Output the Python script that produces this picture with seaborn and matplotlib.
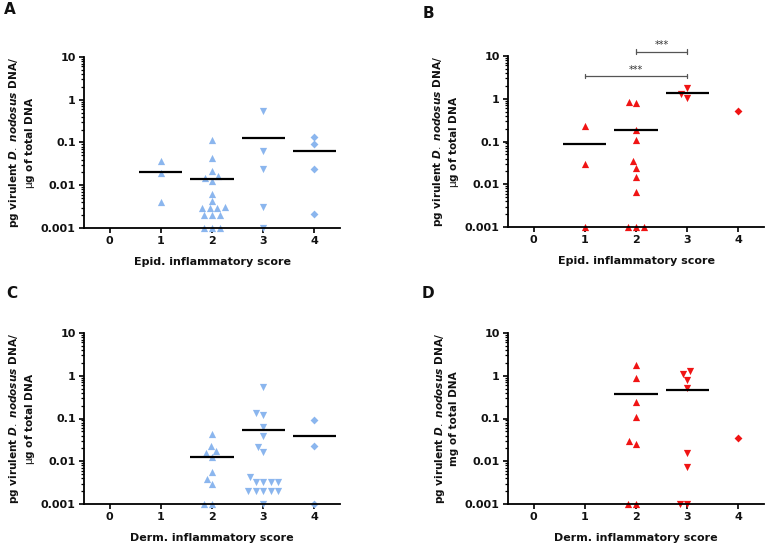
import numpy as np
import pandas as pd
import matplotlib
matplotlib.use("Agg")
import matplotlib.pyplot as plt
import seaborn as sns
from matplotlib.ticker import FixedLocator, FixedFormatter, LogLocator, NullFormatter

sns.set_theme(style="ticks")
plt.rcParams['font.family'] = ['DejaVu Sans']
plt.rcParams['mathtext.fontset'] = 'custom'
plt.rcParams['mathtext.it'] = 'DejaVu Sans:italic:bold'
plt.rcParams['mathtext.rm'] = 'DejaVu Sans'

scores = [0, 1, 2, 3, 4]
ytick_vals = [0.001, 0.01, 0.1, 1, 10]
ytick_labels = ["0.001", "0.01", "0.1", "1", "10"]

# Panel A - epidermal score (blue)
a_s1 = [0.037, 0.019, 0.0041]
a_s2 = [0.117, 0.044, 0.021, 0.0164, 0.015, 0.0126, 0.0062, 0.0042, 0.0031, 0.003,
        0.003, 0.0029, 0.002, 0.002, 0.002, 0.001, 0.001, 0.001]
a_s3 = [0.55, 0.062, 0.0236, 0.0031, 0.001]
a_s4 = [0.138, 0.093, 0.0236, 0.0021]

# Panel B - epidermal score (red)
b_s1 = [0.23, 0.029, 0.001]
b_s2 = [0.85, 0.78, 0.184, 0.107, 0.0346, 0.0245, 0.0148, 0.0067, 0.001, 0.001, 0.001]
b_s3 = [1.74, 1.05, 1.28]
b_s4 = [0.53]

# Panel C - dermal score (blue)
c_s2 = [0.043, 0.023, 0.017, 0.0152, 0.0123, 0.0057, 0.0038, 0.0029, 0.001, 0.001]
c_s3 = [0.55, 0.138, 0.122, 0.064, 0.039, 0.0218, 0.0167, 0.0042,
        0.0032, 0.0032, 0.0032, 0.0032, 0.00205, 0.00205, 0.00205, 0.00205, 0.00205, 0.001]
c_s4 = [0.091, 0.023, 0.001]

# Panel D - dermal score (red)
d_s2 = [1.79, 0.867, 0.244, 0.110, 0.0305, 0.0255, 0.001, 0.001]
d_s3 = [1.3, 1.1, 0.8, 0.52, 0.0156, 0.0073, 0.001, 0.001]
d_s4 = [0.035]

marker_for = {1: '^', 2: '^', 3: 'v', 4: 'D'}
size_for = {'^': 5.2, 'v': 5.2, 'D': 4.0}

BLUE = '#8BB6EE'
RED = '#F01414'

panels = [
    ("A", {1: a_s1, 2: a_s2, 3: a_s3, 4: a_s4}, BLUE, "Epid. inflammatory score", r"$\mathrm{\mu}$g of total DNA"),
    ("B", {1: b_s1, 2: b_s2, 3: b_s3, 4: b_s4}, RED, "Epid. inflammatory score", r"$\mathrm{\mu}$g of total DNA"),
    ("C", {2: c_s2, 3: c_s3, 4: c_s4}, BLUE, "Derm. inflammatory score", r"$\mathrm{\mu}$g of total DNA"),
    ("D", {2: d_s2, 3: d_s3, 4: d_s4}, RED, "Derm. inflammatory score", "mg of total DNA"),
]

W, H = 766, 553
fig = plt.figure(figsize=(W / 100, H / 100), dpi=100)

ax_px = {"A": (84, 57), "B": (508, 56), "C": (84, 333), "D": (508, 333)}
letter_px = {"A": (10, 10), "B": (428, 13), "C": (12, 293), "D": (428, 293)}
aw, ah = 256, 171

for letter, groups, color, xlabel, line2 in panels:
    lx, ty = ax_px[letter]
    ax = fig.add_axes([lx / W, 1 - (ty + ah) / H, aw / W, ah / H])
    ax.set_yscale('log')
    rows = []
    for s, vals in groups.items():
        for v in vals:
            rows.append({"score": s, "value": v, "marker": marker_for[s]})
    df = pd.DataFrame(rows)
    for mk in ['^', 'v', 'D']:
        sub = df[df["marker"] == mk]
        if len(sub) == 0:
            continue
        sns.swarmplot(data=sub, x="score", y="value", order=scores, marker=mk,
                      color=color, size=size_for[mk], linewidth=0, ax=ax, zorder=2)
    for coll in ax.collections:
        coll.set_clip_on(False)
    # mean lines
    for s, vals in groups.items():
        if len(vals) >= 2:
            idx = scores.index(s)
            ax.hlines(np.mean(vals), idx - 0.42, idx + 0.42, color='black', lw=1.6, zorder=3)

    ax.set_ylim(0.001, 10)
    ax.set_xlim(-0.5, 4.5)
    ax.yaxis.set_major_locator(FixedLocator(ytick_vals))
    ax.yaxis.set_major_formatter(FixedFormatter(ytick_labels))
    ax.yaxis.set_minor_locator(LogLocator(base=10, subs=np.arange(2, 10)))
    ax.yaxis.set_minor_formatter(NullFormatter())
    ax.set_xticks(range(len(scores)))
    ax.set_xticklabels([str(s) for s in scores])
    for sp in ['top', 'right']:
        ax.spines[sp].set_visible(False)
    for sp in ['left', 'bottom']:
        ax.spines[sp].set_linewidth(1.3)
        ax.spines[sp].set_color('black')
    ax.tick_params(axis='both', which='major', length=3.5, width=1.2, color='black',
                   labelsize=8, pad=2.5)
    ax.tick_params(axis='y', which='minor', length=2.4, width=0.9, color='black')
    for t in ax.get_xticklabels() + ax.get_yticklabels():
        t.set_fontweight('bold')
        t.set_color('#111111')
    ax.set_xlabel(xlabel, fontsize=8, fontweight='bold', color='#111111')
    ax.xaxis.set_label_coords(0.5, -0.17)
    ax.set_ylabel("")
    ax.text(-0.242, 0.5, "pg virulent $\\mathit{D.\\ nodosus}$ DNA/\n" + line2,
            rotation=90, ha='center', va='center', multialignment='center',
            transform=ax.transAxes, fontsize=7.6, fontweight='bold', color='#111111',
            linespacing=1.25)
    fx, fy = letter_px[letter]
    fig.text(fx / W, 1 - fy / H, letter, fontsize=11, fontweight='bold',
             ha='center', va='center', color='#111111')

    if letter == "B":
        gray = '#555555'
        for (x0, x1, y) in [(1, 3, 3.4), (2, 3, 12.5)]:
            ax.plot([x0, x1], [y, y], color=gray, lw=0.9, clip_on=False)
            for xe in (x0, x1):
                ax.plot([xe, xe], [y / 1.14, y * 1.14], color=gray, lw=0.9, clip_on=False)
            ax.text((x0 + x1) / 2, y * 1.08, "***", ha='center', va='bottom',
                    fontsize=7, color='#333333', clip_on=False)

fig.savefig("out.png", dpi=100)
